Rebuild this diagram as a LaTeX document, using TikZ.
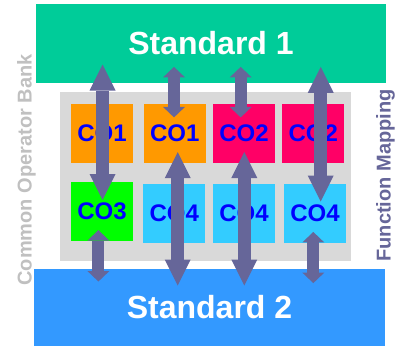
\documentclass[tikz,border=0pt]{standalone}
\usepackage{fontspec}
\setmainfont{Liberation Sans}
\usetikzlibrary{arrows.meta,calc}

\definecolor{stdgreen}{HTML}{00CC99}
\definecolor{stdblue}{HTML}{3399FF}
\definecolor{bankgray}{HTML}{D9D9D9}
\definecolor{coorange}{HTML}{FF9900}
\definecolor{copink}{HTML}{FF0066}
\definecolor{cogreen}{HTML}{00FF00}
\definecolor{cocyan}{HTML}{33CCFF}
\definecolor{coblue}{HTML}{0000FF}
\definecolor{mapcolor}{HTML}{666699}
\definecolor{sidegray}{HTML}{C0C0C0}

\begin{document}
\begin{tikzpicture}[x=1pt,y=-1pt,
  stdbox/.style={fill=#1,text=white,inner sep=0pt,
    font=\fontsize{32}{32}\selectfont\bfseries},
  cobox/.style={fill=#1,text=coblue,inner sep=0pt,minimum width=62pt,
    minimum height=59pt,font=\fontsize{24}{24}\selectfont\bfseries},
  longarr/.style={draw=mapcolor,line width=13pt,
    {Triangle[width=26pt,length=26pt,line width=0pt]}-{Triangle[width=26pt,length=26pt,line width=0pt]}},
  shortarr/.style={draw=mapcolor,line width=12pt,
    {Triangle[width=22pt,length=10.5pt,line width=0pt]}-{Triangle[width=22pt,length=10.5pt,line width=0pt]}},
  sidelabel/.style={rotate=90,anchor=base,font=\fontsize{20}{20}\selectfont\bfseries}]
  \useasboundingbox (0,0) rectangle (395,345);

  % the two standards and the bank between them
  \node[stdbox=stdgreen,minimum width=350pt,minimum height=78.7pt] (s1) at (211,43.35) {Standard 1};
  \node[stdbox=stdblue,minimum width=351pt,minimum height=78pt] (s2) at (209.5,307.5) {Standard 2};
  \node[fill=bankgray,inner sep=0pt,minimum width=291pt,minimum height=168.7pt] (bank) at (205.5,176.65) {};

  % common operators
  \node[cobox=coorange] (co1a) at (102,133.4) {CO1};
  \node[cobox=coorange] (co1b) at (174.7,133.4) {CO1};
  \node[cobox=copink]   (co2a) at (244,133.4) {CO2};
  \node[cobox=copink]   (co2b) at (313.2,133.4) {CO2};
  \node[cobox=cogreen]  (co3)  at (102,211.4) {CO3};
  \node[cobox=cocyan,minimum height=58.7pt] (co4a) at (174.3,213.4) {CO4};
  \node[cobox=cocyan,minimum height=58.7pt] (co4b) at (244,213.4) {CO4};
  \node[cobox=cocyan,minimum height=58.7pt] (co4c) at (315,213.4) {CO4};

  % function mapping
  \path ($(s1.south -| co1a)+(0.5,-18.4)$) edge[longarr] ($(co3.north)+(0.5,18.3)$)
        ($(s1.south -| co1b)+(-0.7,-16)$)  edge[shortarr] ($(co1b.north)+(-0.7,13.7)$)
        ($(s1.south -| co2a)+(-3.3,-16)$)  edge[shortarr] ($(co2a.north)+(-3.3,13.7)$)
        ($(s1.south -| co4c)+(5.7,-16)$)   edge[longarr] ($(co4c.north)+(5.7,17.7)$)

        ($(co3.south)+(-3.6,-11)$)  edge[shortarr] ($(s2.north -| co3)+(-3.6,13.2)$)
        ($(co1b.south)+(3,-11)$)    edge[longarr]  ($(s2.north -| co1b)+(3,17.2)$)
        ($(co2a.south)+(0.3,-11)$)  edge[longarr]  ($(s2.north -| co2a)+(0.3,17.2)$)
        ($(co4c.south)+(-1.7,-11)$) edge[shortarr] ($(s2.north -| co4c)+(-1.7,14.8)$)
  ;

  \node[sidelabel,text=sidegray] (banklabel) at (31.7,170) {Common Operator Bank};
  \node[sidelabel,text=mapcolor] (maplabel) at (390.5,175.5) {Function Mapping};
\end{tikzpicture}
\end{document}
